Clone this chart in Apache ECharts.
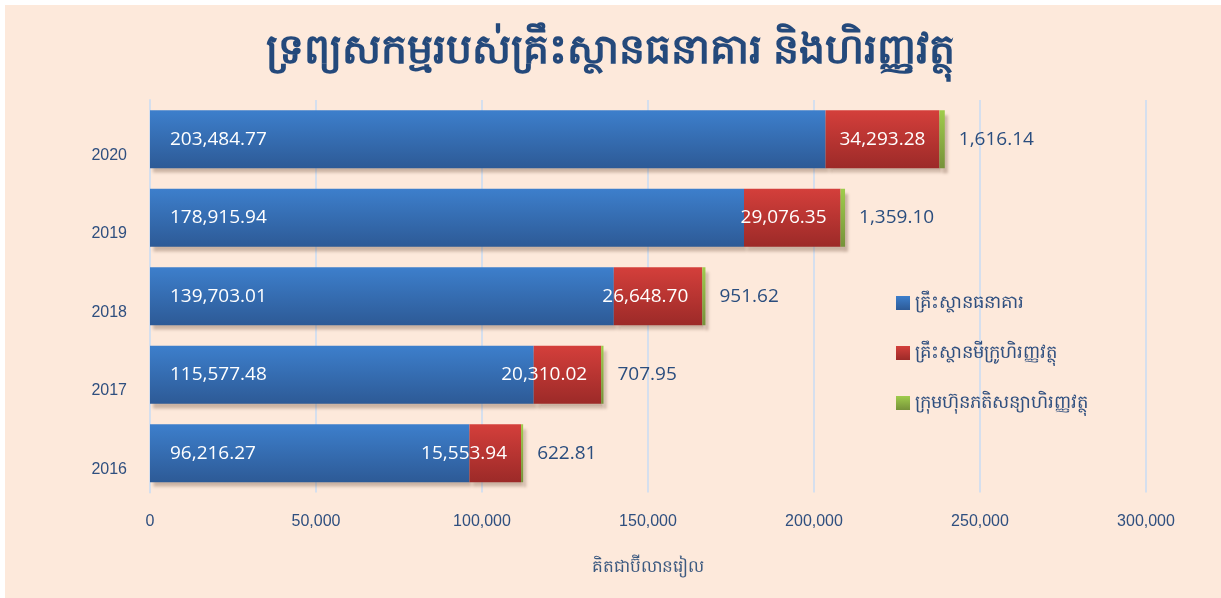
<!DOCTYPE html>
<html>
<head>
<meta charset="utf-8">
<script src="https://cdn.jsdelivr.net/npm/echarts@6/dist/echarts.min.js"></script>
<style>
html,body{margin:0;padding:0;background:#ffffff;}
#main{width:1221px;height:598px;}
</style>
</head>
<body>
<div id="main"></div>
<script>
const titleText = 'ទ្រព្យសកម្មរបស់គ្រឹះស្ថានធនាគារ និងហិរញ្ញវត្ថុ';
const axisName = 'គិតជាប៊ីលានរៀល';
const years = ['2016', '2017', '2018', '2019', '2020'];
const seriesNames = ['គ្រឹះស្ថានធនាគារ', 'គ្រឹះស្ថានមីក្រូហិរញ្ញវត្ថុ', 'ក្រុមហ៊ុនភតិសន្យាហិរញ្ញវត្ថុ'];
const banks = [96216.27, 115577.48, 139703.01, 178915.94, 203484.77];
const microfinance = [15553.94, 20310.02, 26648.70, 29076.35, 34293.28];
const leasing = [622.81, 707.95, 951.62, 1359.10, 1616.14];
const xTicks = [0, 50000, 100000, 150000, 200000, 250000, 300000];

const fmt = v => v.toLocaleString('en-US', {minimumFractionDigits: 2, maximumFractionDigits: 2});
const grad = (a, b) => new echarts.graphic.LinearGradient(0, 0, 0, 1, [{offset: 0, color: a}, {offset: 1, color: b}]);
const shadow = {shadowColor: 'rgba(110,80,60,0.35)', shadowBlur: 3, shadowOffsetX: 3, shadowOffsetY: 5};
const labelFont = 'Open Sans, Noto Sans, sans-serif';

const chart = echarts.init(document.getElementById('main'), null, {renderer: 'canvas'});
chart.setOption({
  backgroundColor: '#fde9db',
  animation: false,
  graphic: [
    {type: 'rect', left: 0, top: 0, shape: {width: 1221, height: 5}, style: {fill: '#ffffff'}, silent: true},
    {type: 'rect', left: 0, top: 0, shape: {width: 5, height: 598}, style: {fill: '#ffffff'}, silent: true}
  ],
  title: {
    text: titleText,
    left: 'center',
    top: 26,
    textStyle: {color: '#24497b', fontSize: 41, fontWeight: 'bold', fontFamily: 'Noto Sans, sans-serif'}
  },
  legend: {
    orient: 'vertical',
    left: 891,
    top: 287,
    itemWidth: 14,
    itemHeight: 14,
    itemGap: 28,
    icon: 'rect',
    textStyle: {color: '#2f4f7f', fontSize: 18, lineHeight: 22, fontFamily: 'Noto Sans, sans-serif'},
    data: seriesNames
  },
  grid: {left: 150, right: 75, top: 100, bottom: 105.5, containLabel: false},
  xAxis: {
    type: 'value',
    min: xTicks[0],
    max: xTicks[xTicks.length - 1],
    interval: xTicks[1] - xTicks[0],
    name: axisName,
    nameLocation: 'middle',
    nameGap: 66,
    nameTextStyle: {color: '#3d5a80', fontSize: 17, fontFamily: 'Noto Sans, sans-serif'},
    axisLine: {show: false},
    axisTick: {show: false},
    axisLabel: {
      color: '#2f4f7f', fontSize: 16, margin: 21, fontFamily: 'Liberation Sans, Arial, sans-serif',
      formatter: v => v.toLocaleString('en-US')
    },
    splitLine: {show: true, lineStyle: {color: '#d5dfee', width: 2}}
  },
  yAxis: {
    type: 'category',
    data: years,
    axisLine: {show: true, lineStyle: {color: '#d5dfee', width: 2}},
    axisTick: {show: false},
    axisLabel: {color: '#2f4f7f', fontSize: 16, margin: 23, verticalAlign: 'top', lineHeight: 32, fontFamily: 'Liberation Sans, Arial, sans-serif'},
    splitLine: {show: false}
  },
  series: [
    {
      name: seriesNames[0], type: 'bar', stack: 'total', barWidth: 58,
      data: banks,
      itemStyle: Object.assign({color: grad('#3d7fcc', '#2d5a96')}, shadow),
      label: {show: true, position: 'insideLeft', distance: 20, color: '#ffffff', fontSize: 19, fontFamily: labelFont, formatter: p => fmt(p.value)}
    },
    {
      name: seriesNames[1], type: 'bar', stack: 'total', barWidth: 58,
      data: microfinance,
      itemStyle: Object.assign({color: grad('#d43f3b', '#9c2a28')}, shadow),
      label: {show: true, position: 'insideRight', distance: 14, color: '#ffffff', fontSize: 19, fontFamily: labelFont, formatter: p => fmt(p.value)}
    },
    {
      name: seriesNames[2], type: 'bar', stack: 'total', barWidth: 58,
      data: leasing,
      itemStyle: Object.assign({color: grad('#9fcc4c', '#76923a')}, shadow),
      label: {show: true, position: 'right', distance: 14, color: '#2a4d7e', fontSize: 19, fontFamily: labelFont, formatter: p => fmt(p.value)}
    }
  ]
});
</script>
</body>
</html>
